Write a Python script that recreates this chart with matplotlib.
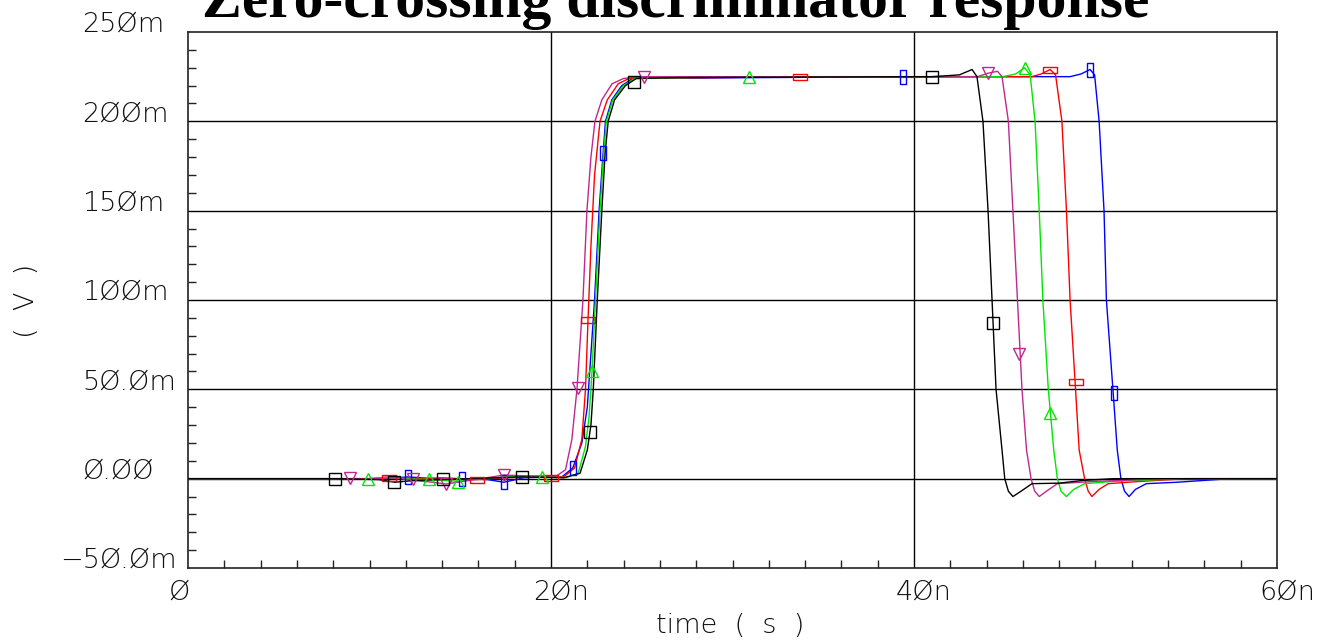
import matplotlib
matplotlib.use("Agg")
import matplotlib.pyplot as plt
from matplotlib.ticker import MultipleLocator
from matplotlib.transforms import blended_transform_factory, offset_copy

# --- data (time in ns, voltage in mV) ---
black_t = [0, 8.0, 10.5, 11.4, 12.5, 14.0, 15.5, 17.0, 18.4, 19.5, 20.7, 21.6, 22.0, 22.2, 22.33,
           22.55, 22.8, 22.98, 23.15, 23.5, 24.1, 24.7, 27, 35, 41, 42.5, 43.2, 43.47, 43.8, 44.08,
           44.3, 44.52, 44.85, 45.0, 45.2, 45.45, 45.9, 46.5, 48.0, 49.3, 51, 60]
black_v = [0, 0, -0.5, -2, -1, -0.5, 0, 0.5, 1, 0.8, 0.5, 3, 16, 30, 50,
           100, 150, 182, 200, 212, 220, 224, 224.5, 224.8, 225, 226, 229, 225, 200, 150,
           100, 50, 16, 0, -7, -10, -7, -2.8, -2.5, -1, 0, 0]

magenta_t = [0, 8.9, 10.5, 11.5, 12.4, 13.5, 14.2, 15.5, 17.4, 19.0, 20.3, 20.8, 21.15, 21.43,
             21.76, 21.98, 22.2, 22.42, 22.8, 23.36, 24.0, 25.1, 30, 40, 43.5, 44.1, 44.6, 44.85,
             45.2, 45.45, 45.7, 45.95, 46.2, 46.45, 46.65, 46.9, 47.3, 47.9, 50, 53.9, 60]
magenta_v = [0, 0, 0, 0.5, -1, -2, -3, -1, 2, 1.5, 1.5, 5, 22, 50,
             100, 150, 180, 200, 212, 221, 224, 225, 225, 224.6, 225, 227, 228, 225,
             200, 150, 100, 50, 16, 0, -7, -10, -7, -2.8, -1.5, 0, 0]

green_t = [0, 9.9, 11.0, 12.0, 13.3, 14.9, 16.0, 17.5, 19.45, 20.8, 21.5, 21.9, 22.1, 22.26,
           22.45, 22.7, 22.9, 23.05, 23.4, 24.0, 24.6, 30.9, 40, 44.9, 45.6, 46.1, 46.4, 46.67,
           46.9, 47.1, 47.4, 47.7, 47.9, 48.1, 48.4, 48.8, 49.4, 51, 54.8, 60]
green_v = [0, 0, 0.5, 0, -0.5, -1.5, 0, 1, 1.5, 0.5, 3, 18, 35, 60,
           100, 150, 182, 200, 212, 220, 224, 225, 224.6, 225, 226.5, 230, 226, 200,
           150, 100, 50, 16, 0, -7, -10, -6, -2.8, -1.5, 0, 0]

red_t = [0, 10.0, 11.1, 12.5, 14.0, 15.9, 17.5, 19.9, 20.7, 21.3, 21.7, 21.9, 22.04, 22.2,
         22.4, 22.7, 23.1, 23.7, 24.3, 33.7, 46.5, 47.0, 47.5, 47.8, 48.15, 48.4, 48.6, 48.9,
         49.1, 49.4, 49.6, 49.8, 50.2, 50.7, 52.5, 55, 60]
red_v = [0, 0, 1, 0, 0.5, -0.5, 0.5, 1, 1, 6, 22, 50, 89, 130,
         170, 200, 212, 221, 224, 225, 225, 226.5, 229, 226, 200, 150, 100, 50,
         16, 0, -7, -10, -6, -2.8, -1.5, 0, 0]

blue_t = [0, 11.0, 12.1, 13.5, 15.1, 16.5, 17.4, 18.5, 20.0, 20.6, 21.2, 21.7, 22.0, 22.2,
          22.4, 22.65, 22.87, 23.0, 23.35, 23.9, 24.5, 39.4, 48.6, 49.2, 49.7, 49.95, 50.2,
          50.47, 50.6, 50.96, 51.2, 51.4, 51.6, 51.85, 52.2, 52.8, 54.5, 57.4, 60]
blue_v = [0, 0, 1, 0, 0, -0.5, -2, 0.5, 1, 1, 6, 20, 40, 70,
          100, 150, 182, 200, 212, 220, 224, 225, 225, 226.5, 229, 226, 200,
          150, 100, 50, 16, 0, -7, -10, -6, -2.8, -2, 0, 0]

# marker positions along each trace
black_mk_t = [8.1, 11.35, 14.05, 18.4, 22.15, 24.6, 41.0, 44.35]
black_mk_v = [0, -2, 0, 1, 26, 222, 225, 87]
magenta_mk_t = [8.9, 12.4, 14.2, 17.4, 21.5, 25.1, 44.1, 45.8]
magenta_mk_v = [0.5, 0, -3, 2, 51, 225, 227, 70]
green_mk_t = [9.9, 13.3, 14.9, 19.5, 22.26, 30.9, 46.1, 47.5]
green_mk_v = [0, 0, -2, 1, 60, 225, 230, 37]
red_mk_t = [11.1, 15.9, 20.0, 22.04, 33.7, 47.5, 48.9]
red_mk_v = [0.5, -1, 0.5, 89, 225, 229, 54]
blue_mk_t = [12.1, 15.1, 17.4, 21.2, 22.87, 39.4, 49.7, 51.0]
blue_mk_v = [1, 0, -2, 6, 182, 225, 229, 48]

x_ticks = [0, 20, 40, 60]
x_labels = ["Ø", "2Øn", "4Øn", "6Øn"]
y_ticks = [-50, 0, 50, 100, 150, 200, 250]
y_labels = ["−5Ø.Øm", "Ø.ØØ", "5Ø.Øm", "1ØØm", "15Øm", "2ØØm", "25Øm"]

title = "Zero-crossing discriminator response"

# --- figure ---
W, H = 1335, 641
fig = plt.figure(figsize=(W / 100, H / 100), dpi=100)
ax = fig.add_axes([188 / W, 1 - 568 / H, (1277 - 188) / W, (568 - 32) / H])

hrect = [(-1, -0.38), (1, -0.38), (1, 0.38), (-1, 0.38), (-1, -0.38)]
vrect = [(-0.38, -1), (0.38, -1), (0.38, 1), (-0.38, 1), (-0.38, -1)]

traces = [
    (blue_t, blue_v, blue_mk_t, blue_mk_v, "#0000ff", vrect, 10),
    (red_t, red_v, red_mk_t, red_mk_v, "#ff0000", hrect, 10),
    (green_t, green_v, green_mk_t, green_mk_v, "#00e600", "^", 8.5),
    (magenta_t, magenta_v, magenta_mk_t, magenta_mk_v, "#c0288f", "v", 8.5),
    (black_t, black_v, black_mk_t, black_mk_v, "#000000", "s", 8),
]
for t, v, mt, mv, col, mk, ms in traces:
    ax.plot(t, v, color=col, lw=1.0, zorder=3)
    ax.plot(mt, mv, ls="none", marker=mk, ms=ms, mfc="none", mec=col, mew=1.0, zorder=4)

ax.set_xlim(0, 60)
ax.set_ylim(-50, 250)

# grid lines like the waveform viewer
for yv in y_ticks[1:-1]:
    ax.axhline(yv, color="black", lw=1.0, zorder=1)
for xv in x_ticks[1:-1]:
    ax.axvline(xv, color="black", lw=1.0, zorder=1)

for s in ax.spines.values():
    s.set_color("#222222")
    s.set_linewidth(1.2)

ax.xaxis.set_minor_locator(MultipleLocator(2))
ax.yaxis.set_minor_locator(MultipleLocator(10))
ax.set_xticks(x_ticks)
ax.set_yticks(y_ticks)
ax.tick_params(which="major", length=0, labelleft=False, labelbottom=False)
ax.tick_params(which="minor", direction="in", length=6, width=1.0, color="#222222",
               top=False, right=False)

fs = 19.5
txt = dict(fontsize=fs, color="#111111", family=["DejaVu Sans"], fontweight="light")

# y tick labels: left-aligned column, baseline on the grid line
ytr = blended_transform_factory(fig.transFigure, ax.transData)
for yv, lab in zip(y_ticks, y_labels):
    if lab.startswith("−"):
        ax.text(60 / W, yv, lab, transform=ytr, ha="left", va="baseline", **txt)
    else:
        ax.text(82 / W, yv, lab, transform=ytr, ha="left", va="baseline", **txt)

# x tick labels
xtr = blended_transform_factory(ax.transData, fig.transFigure)
for xv, lab in zip(x_ticks, x_labels):
    if xv == 0:
        ax.text(xv, 1 - 600 / H, lab, transform=offset_copy(xtr, fig=fig, x=2, units="dots"),
                ha="right", va="baseline", **txt)
    else:
        ax.text(xv, 1 - 600 / H, lab, transform=offset_copy(xtr, fig=fig, x=10, units="dots"),
                ha="center", va="baseline", **txt)

fig.text(730 / W, 1 - 633 / H, "time  (  s  )", ha="center", va="baseline", **txt)
fig.text(27 / W, 1 - 301 / H, "(  V  )", ha="center", va="center", rotation=90, **txt)

# the title sits partly above the top edge, as in the source screenshot
fig.text(676 / W, 1 - 17 / H, title, ha="center", va="baseline", fontsize=43,
         fontweight="bold", family=["Liberation Serif", "DejaVu Serif"], color="black")

fig.savefig("out.png", dpi=100)
